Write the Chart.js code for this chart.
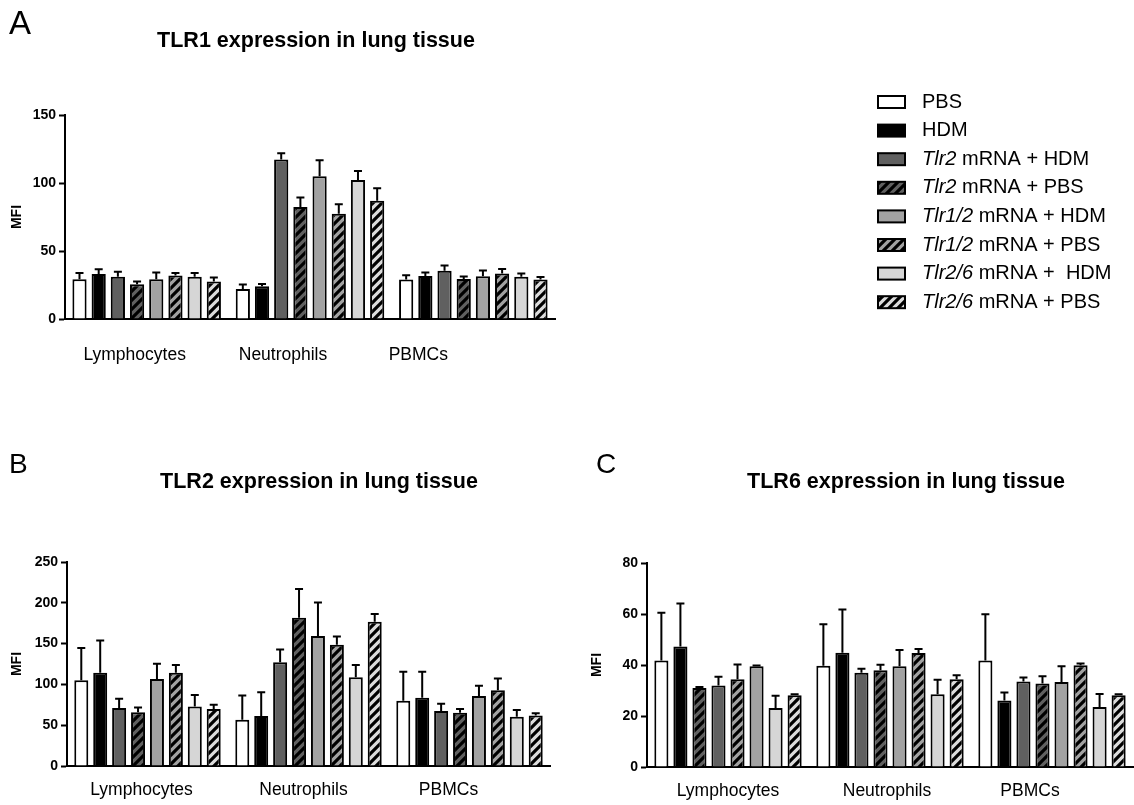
<!DOCTYPE html>
<html lang="en">
<head>
<meta charset="UTF-8" />
<title>TLR expression in lung tissue</title>
<script src="https://cdn.jsdelivr.net/npm/chart.js"></script>
<style>
  html, body { margin: 0; padding: 0; background: #fff; }
  body { width: 1134px; height: 805px; position: relative; overflow: hidden; }
  .panel { position: absolute; }
</style>
</head>
<body>
<div class="panel" style="left:0;top:0;width:1134px;height:375px"><canvas id="chartA"></canvas></div>
<div class="panel" style="left:0;top:440px;width:580px;height:365px"><canvas id="chartB"></canvas></div>
<div class="panel" style="left:580px;top:440px;width:554px;height:365px"><canvas id="chartC"></canvas></div>

<script>
// ---- data ----
const categories = ["Lymphocytes", "Neutrophils", "PBMCs"];
const seriesNames = [
  "PBS",
  "HDM",
  "Tlr2 mRNA + HDM",
  "Tlr2 mRNA + PBS",
  "Tlr1/2 mRNA + HDM",
  "Tlr1/2 mRNA + PBS",
  "Tlr2/6 mRNA +  HDM",
  "Tlr2/6 mRNA + PBS"
];

// one row per series: [Lymphocytes, Neutrophils, PBMCs]
const tlr1Mean = [
  [29.3, 22, 29],
  [33, 24, 31.7],
  [31, 117.3, 35.4],
  [25.6, 82.4, 29.5],
  [29.3, 105, 31.5],
  [32, 77.3, 33.4],
  [31, 102.2, 31],
  [27.6, 87, 29]
];
const tlr1Sem = [
  [4.5, 3.4, 3.2],
  [3.6, 1.8, 2.5],
  [3.7, 4.5, 3.9],
  [2, 6.9, 1.8],
  [4.9, 11.8, 4.2],
  [1.8, 7.1, 3.4],
  [2.8, 6.6, 2.5],
  [2.9, 9.1, 1.8]
];

const tlr2Mean = [
  [105, 56.8, 80],
  [114.4, 61.3, 83.7],
  [71, 127, 67.4],
  [66, 181.8, 65.4],
  [106.6, 159.3, 85.8],
  [114.4, 148.7, 92.7],
  [73, 108.7, 60.5],
  [69.9, 176.9, 62]
];
const tlr2Sem = [
  [39.5, 29.7, 35.5],
  [39.5, 29.2, 31.8],
  [11.5, 15.9, 8.9],
  [5.8, 35, 4.4],
  [18.7, 41.2, 12.6],
  [9.3, 10.1, 14.6],
  [13.9, 15, 8],
  [5.2, 9.3, 2.5]
];

// panel C lymphocytes: bars 3/4 and 5/6 are drawn with swapped fills in the figure
const tlr6Mean = [
  [41.8, 39.7, 41.8],
  [47.3, 44.8, 26.1],
  [31, 37, 33.5],
  [32, 37.9, 32.7],
  [34.4, 39.5, 33.3],
  [39.5, 44.7, 39.9],
  [23.1, 28.5, 23.5],
  [28.1, 34.4, 28.1]
];
const tlr6Sem = [
  [18.7, 16.3, 18.1],
  [16.8, 17, 3.1],
  [0.4, 1.5, 1.6],
  [3.4, 2.2, 2.9],
  [5.8, 6.4, 6.2],
  [0.3, 1.6, 0.7],
  [4.8, 5.7, 5.1],
  [0.4, 1.6, 0.4]
];

// ---- styles ----
const FONT = "'Liberation Sans', Arial, Helvetica, sans-serif";

function hatch(color) {
  const n = 9;
  const c = document.createElement("canvas");
  c.width = n;
  c.height = n;
  const g = c.getContext("2d");
  g.fillStyle = color;
  g.fillRect(0, 0, n, n);
  g.strokeStyle = "#000";
  g.lineWidth = 3.2;
  g.beginPath();
  for (let k = -1; k <= 1; k++) {
    g.moveTo(k * n - 2, n + 2);
    g.lineTo(k * n + n + 2, -2);
  }
  g.stroke();
  return g.createPattern(c, "repeat");
}

const seriesFills = [
  "#ffffff",
  "#000000",
  "#606060",
  hatch("#606060"),
  "#a2a2a2",
  hatch("#a2a2a2"),
  "#d6d6d6",
  hatch("#dcdcdc")
];

function buildDatasets(means, sems, swapLymph) {
  return seriesNames.map((name, i) => {
    let bg = seriesFills[i];
    if (swapLymph && i >= 2 && i <= 5) {
      const partner = i % 2 === 0 ? i + 1 : i - 1;
      bg = [seriesFills[partner], seriesFills[i], seriesFills[i]];
    }
    return {
      label: name,
      data: means[i],
      errors: sems[i],
      backgroundColor: bg,
      legendFill: seriesFills[i],
      borderColor: "#000",
      borderWidth: 2,
      barPercentage: 0.74,
      categoryPercentage: 0.94
    };
  });
}

// ---- plugins ----
const errorBars = {
  id: "errorBars",
  afterDatasetsDraw(chart) {
    const ctx = chart.ctx;
    const y = chart.scales.y;
    ctx.save();
    ctx.strokeStyle = "#000";
    ctx.lineWidth = 2;
    chart.data.datasets.forEach((ds, di) => {
      chart.getDatasetMeta(di).data.forEach((bar, j) => {
        const top = y.getPixelForValue(ds.data[j] + ds.errors[j]);
        ctx.beginPath();
        ctx.moveTo(bar.x, bar.y);
        ctx.lineTo(bar.x, top);
        ctx.moveTo(bar.x - 4, top);
        ctx.lineTo(bar.x + 4, top);
        ctx.stroke();
      });
    });
    ctx.restore();
  }
};

// the figure's category labels sit a little left of their groups
const labelShift = {
  id: "labelShift",
  beforeDraw(chart, args, o) {
    if (!o || !o.shift) return;
    const items = chart.scales.x.getLabelItems(chart.chartArea);
    if (items._shifted) return;
    items.forEach((it, i) => { it.options.translation[0] += o.shift[i] || 0; });
    items._shifted = true;
  }
};

const panelText = {
  id: "panelText",
  afterDraw(chart, args, o) {
    const ctx = chart.ctx;
    ctx.save();
    ctx.fillStyle = "#000";
    ctx.textBaseline = "alphabetic";
    ctx.textAlign = "left";
    ctx.font = o.letterSize + "px " + FONT;
    ctx.fillText(o.letter, o.letterX, o.letterY);
    ctx.textAlign = "center";
    ctx.font = "bold 21.5px " + FONT;
    ctx.fillText(o.title, o.titleX, o.titleY);
    ctx.restore();
  }
};

const sideLegend = {
  id: "sideLegend",
  afterDraw(chart, args, o) {
    if (!o || !o.show) return;
    const ctx = chart.ctx;
    ctx.save();
    ctx.textBaseline = "middle";
    ctx.textAlign = "left";
    chart.data.datasets.forEach((ds, i) => {
      const cy = o.y + i * o.step;
      ctx.fillStyle = ds.legendFill;
      ctx.fillRect(o.x, cy - 6, 27, 12);
      ctx.strokeStyle = "#000";
      ctx.lineWidth = 2;
      ctx.strokeRect(o.x, cy - 6, 27, 12);
      ctx.fillStyle = "#000";
      let tx = o.x + 44;
      const cut = ds.label.indexOf(" ");
      const parts = ds.label.startsWith("Tlr")
        ? [ds.label.slice(0, cut), ds.label.slice(cut)]
        : ["", ds.label];
      if (parts[0]) {
        ctx.font = "italic 20px " + FONT;
        ctx.fillText(parts[0], tx, cy);
        tx += ctx.measureText(parts[0]).width;
      }
      ctx.font = "20px " + FONT;
      ctx.fillText(parts[1], tx, cy);
    });
    ctx.restore();
  }
};

function makeChart(id, means, sems, cfg) {
  return new Chart(document.getElementById(id), {
    type: "bar",
    data: {
      labels: categories,
      datasets: buildDatasets(means, sems, cfg.swapLymph)
    },
    options: {
      responsive: true,
      maintainAspectRatio: false,
      animation: false,
      layout: { padding: { top: cfg.padTop, right: cfg.padRight, left: 0, bottom: 0 } },
      plugins: {
        legend: { display: false },
        tooltip: { enabled: false },
        panelText: cfg.text,
        sideLegend: cfg.legend || { show: false },
        labelShift: { shift: cfg.labelShift }
      },
      scales: {
        x: {
          grid: { display: false },
          border: { display: true, color: "#000", width: 2 },
          ticks: {
            color: "#000",
            font: { family: FONT, size: 17.5 },
            padding: cfg.xPad,
            maxRotation: 0,
            autoSkip: false
          },
          afterFit: (s) => { s.height = cfg.xHeight; }
        },
        y: {
          min: 0,
          max: cfg.yMax,
          ticks: {
            stepSize: cfg.yStep,
            color: "#000",
            font: { family: FONT, size: 14, weight: "bold" },
            padding: 3
          },
          grid: {
            display: true,
            drawOnChartArea: false,
            drawTicks: true,
            tickLength: 6,
            tickWidth: 2,
            tickColor: "#000"
          },
          border: { display: true, color: "#000", width: 2 },
          title: {
            display: true,
            text: "MFI",
            color: "#000",
            font: { family: FONT, size: 14, weight: "bold" },
            padding: { top: 9, bottom: 0 }
          },
          afterFit: (s) => { s.width = cfg.yWidth; }
        }
      }
    },
    plugins: [errorBars, labelShift, panelText, sideLegend]
  });
}

makeChart("chartA", tlr1Mean, tlr1Sem, {
  yMax: 150, yStep: 50,
  padTop: 115, padRight: 579, yWidth: 65, xHeight: 56, xPad: 18,
  labelShift: [-12, -27, -55],
  text: { letter: "A", letterSize: 33, letterX: 9, letterY: 34,
          title: "TLR1 expression in lung tissue", titleX: 316, titleY: 47 },
  legend: { show: true, x: 878, y: 102, step: 28.6 }
});

makeChart("chartB", tlr2Mean, tlr2Sem, {
  yMax: 250, yStep: 50,
  padTop: 122, padRight: 30, yWidth: 67, xHeight: 39, xPad: 6,
  labelShift: [-6, -5, -21],
  text: { letter: "B", letterSize: 28, letterX: 9, letterY: 33,
          title: "TLR2 expression in lung tissue", titleX: 319, titleY: 48 }
});

makeChart("chartC", tlr6Mean, tlr6Sem, {
  yMax: 80, yStep: 20, swapLymph: true,
  padTop: 123, padRight: 1, yWidth: 67, xHeight: 38, xPad: 6,
  labelShift: [0, -3, -22],
  text: { letter: "C", letterSize: 28, letterX: 16, letterY: 33,
          title: "TLR6 expression in lung tissue", titleX: 326, titleY: 48 }
});
</script>
</body>
</html>
